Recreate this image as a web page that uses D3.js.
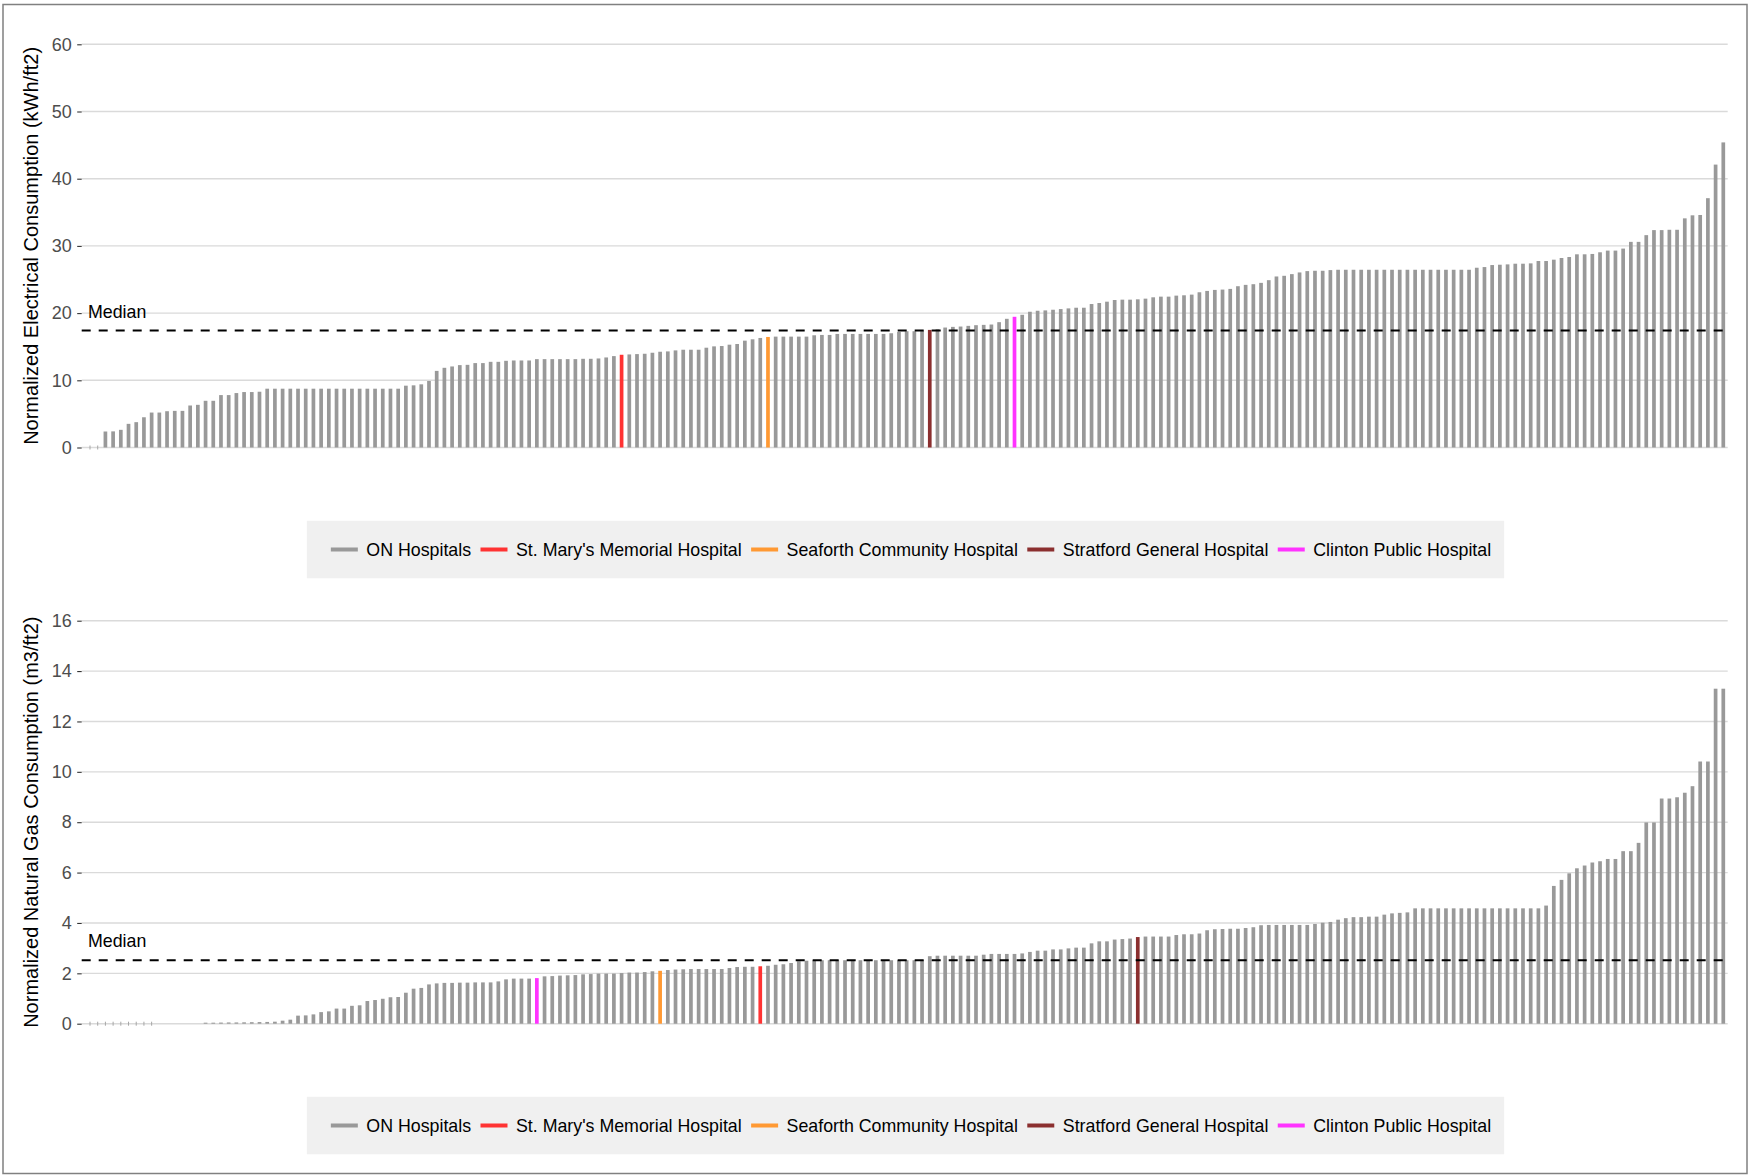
<!DOCTYPE html>
<html>
<head>
<meta charset="utf-8">
<script src="https://cdn.jsdelivr.net/npm/d3@7"></script>
<style>
  body { margin: 0; background: #fff; }
  text { font-family: "Liberation Sans", Arial, sans-serif; }
</style>
</head>
<body>
<div id="chart"></div>
<script>
// normalized electrical consumption, sorted (kWh/ft2)
const elecValues = [
  0, 0, 2.38, 2.4, 2.63, 3.52, 3.77, 4.5, 5.2, 5.2,
  5.4, 5.45, 5.45, 6.25, 6.35, 6.95, 6.95, 7.8, 7.8, 8.1,
  8.25, 8.25, 8.3, 8.75, 8.75, 8.75, 8.75, 8.75, 8.75, 8.75,
  8.75, 8.75, 8.75, 8.75, 8.75, 8.75, 8.75, 8.75, 8.75, 8.75,
  8.75, 9.2, 9.25, 9.4, 9.9, 11.4, 11.86, 12.06, 12.26, 12.3,
  12.56, 12.56, 12.75, 12.75, 12.9, 12.95, 12.95, 12.95, 13.15, 13.15,
  13.15, 13.15, 13.15, 13.15, 13.2, 13.2, 13.25, 13.4, 13.6, 13.8,
  13.85, 13.9, 13.95, 14.1, 14.25, 14.3, 14.45, 14.55, 14.55, 14.55,
  14.85, 15.05, 15.1, 15.3, 15.4, 15.9, 16.1, 16.3, 16.45, 16.5,
  16.5, 16.5, 16.5, 16.5, 16.7, 16.75, 16.75, 16.9, 16.9, 16.9,
  16.9, 16.9, 16.9, 16.9, 17.0, 17.2, 17.3, 17.3, 17.4, 17.5,
  17.6, 17.85, 17.95, 18.0, 18.1, 18.2, 18.25, 18.3, 18.65, 19.15,
  19.45, 19.75, 20.2, 20.35, 20.4, 20.5, 20.6, 20.7, 20.8, 20.8,
  21.35, 21.5, 21.7, 21.95, 22.0, 22.0, 22.05, 22.15, 22.35, 22.45,
  22.45, 22.6, 22.65, 22.75, 23.1, 23.3, 23.45, 23.5, 23.6, 24.0,
  24.2, 24.3, 24.5, 24.9, 25.45, 25.55, 25.8, 26.05, 26.25, 26.3,
  26.3, 26.4, 26.45, 26.45, 26.45, 26.45, 26.45, 26.45, 26.45, 26.45,
  26.45, 26.45, 26.45, 26.45, 26.45, 26.45, 26.45, 26.45, 26.45, 26.45,
  26.75, 26.85, 27.15, 27.2, 27.25, 27.35, 27.35, 27.4, 27.75, 27.75,
  27.95, 28.2, 28.35, 28.75, 28.75, 28.8, 29.05, 29.3, 29.3, 29.6,
  30.6, 30.6, 31.6, 32.35, 32.35, 32.4, 32.4, 34.1, 34.55, 34.6,
  37.1, 42.1, 45.4
];

// normalized natural gas consumption, sorted (m3/ft2); null = no value
const gasValues = [
  0, 0, 0, 0, 0, 0, 0, 0, 0, null,
  null, null, null, null, null, 0.04, 0.04, 0.045, 0.05, 0.05,
  0.055, 0.06, 0.065, 0.07, 0.08, 0.12, 0.16, 0.32, 0.33, 0.37,
  0.46, 0.49, 0.6, 0.6, 0.71, 0.73, 0.9, 0.94, 0.99, 1.05,
  1.06, 1.23, 1.39, 1.42, 1.56, 1.6, 1.62, 1.62, 1.63, 1.63,
  1.64, 1.64, 1.64, 1.68, 1.76, 1.79, 1.79, 1.79, 1.81, 1.88,
  1.89, 1.91, 1.92, 1.93, 1.96, 1.97, 1.99, 1.99, 1.99, 2.01,
  2.03, 2.03, 2.05, 2.08, 2.1, 2.13, 2.15, 2.16, 2.17, 2.17,
  2.17, 2.17, 2.17, 2.21, 2.25, 2.26, 2.26, 2.28, 2.3, 2.34,
  2.36, 2.41, 2.48, 2.5, 2.52, 2.52, 2.52, 2.52, 2.52, 2.52,
  2.52, 2.52, 2.52, 2.52, 2.52, 2.52, 2.52, 2.52, 2.52, 2.68,
  2.7, 2.7, 2.7, 2.7, 2.7, 2.7, 2.74, 2.77, 2.77, 2.77,
  2.77, 2.79, 2.85, 2.9, 2.9, 2.95, 2.95, 2.99, 3.02, 3.02,
  3.19, 3.27, 3.27, 3.34, 3.36, 3.38, 3.44, 3.46, 3.46, 3.46,
  3.46, 3.52, 3.55, 3.55, 3.58, 3.71, 3.75, 3.76, 3.77, 3.77,
  3.8, 3.83, 3.91, 3.92, 3.92, 3.92, 3.92, 3.92, 3.92, 3.96,
  4.01, 4.04, 4.13, 4.19, 4.23, 4.23, 4.25, 4.25, 4.33, 4.38,
  4.4, 4.42, 4.58, 4.58, 4.58, 4.58, 4.58, 4.58, 4.58, 4.58,
  4.58, 4.58, 4.58, 4.58, 4.58, 4.58, 4.58, 4.58, 4.58, 4.69,
  5.47, 5.71, 5.97, 6.17, 6.28, 6.4, 6.45, 6.54, 6.54, 6.85,
  6.85, 7.18, 7.99, 7.99, 8.94, 8.94, 8.99, 9.17, 9.43, 10.41,
  10.41, 13.3, 13.3
];

const elecTicks = [0, 10, 20, 30, 40, 50, 60];
const gasTicks = [0, 2, 4, 6, 8, 10, 12, 14, 16];
const elecMedian = 17.4;
const gasMedian = 2.52;

const hospitalNames = ["ON Hospitals", "St. Mary's Memorial Hospital", "Seaforth Community Hospital",
  "Stratford General Hospital", "Clinton Public Hospital"];
const hospitalColors = ["#999999", "#FF3333", "#FF9933", "#8B2F2F", "#FF33FF"];
// position of each named hospital in the sorted bars
const elecRanks = [null, 69, 88, 109, 120];
const gasRanks = [null, 87, 74, 136, 58];

const W = 1750, H = 1175;
const font = '"Liberation Sans", Arial, sans-serif';

const svg = d3.select("#chart").append("svg")
  .attr("width", W)
  .attr("height", H);

svg.append("rect").attr("width", W).attr("height", H).attr("fill", "#fff");
svg.append("rect")
  .attr("x", 3).attr("y", 4.5)
  .attr("width", 1744).attr("height", 1169)
  .attr("fill", "none")
  .attr("stroke", "#808080")
  .attr("stroke-width", 1.5);

const plotLeft = 81.7, plotRight = 1727.7;
const padL = 8.3, padR = 4.4;

function drawPanel(cfg) {
  const n = cfg.values.length;
  const step = (plotRight - padR - plotLeft - padL) / (n - 1);
  const p = 0.52;
  const x = d3.scaleBand()
    .domain(d3.range(n))
    .range([plotLeft + padL - step / 2, plotRight - padR + step / 2])
    .paddingInner(p)
    .paddingOuter(p / 2);
  const y = d3.scaleLinear().domain(cfg.domain).range([cfg.bottom, cfg.top]);

  const g = svg.append("g");

  g.selectAll("line.grid")
    .data(cfg.ticks)
    .join("line")
    .attr("class", "grid")
    .attr("x1", plotLeft).attr("x2", plotRight)
    .attr("y1", d => y(d)).attr("y2", d => y(d))
    .attr("stroke", "#dadada")
    .attr("stroke-width", 1.4);

  const axis = g.append("g")
    .attr("transform", `translate(${plotLeft},0)`)
    .call(d3.axisLeft(y).tickValues(cfg.ticks).tickSize(4.5).tickPadding(5.5));
  axis.select(".domain").remove();
  axis.selectAll(".tick line").attr("stroke", "#333").attr("stroke-width", 1.1);
  axis.selectAll(".tick text")
    .attr("fill", "#4d4d4d")
    .style("font-size", "18px")
    .style("font-family", font);

  const rows = cfg.values.map((v, i) => ({ v, i }));
  const colorOf = i => {
    const k = cfg.ranks.indexOf(i);
    return k > 0 ? hospitalColors[k] : hospitalColors[0];
  };

  g.selectAll("rect.bar")
    .data(rows.filter(d => d.v > 0))
    .join("rect")
    .attr("class", "bar")
    .attr("x", d => x(d.i))
    .attr("width", x.bandwidth())
    .attr("y", d => y(d.v))
    .attr("height", d => y(0) - y(d.v))
    .attr("fill", d => colorOf(d.i));

  // zero values show as a thin tick on the baseline
  g.selectAll("line.zero")
    .data(rows.filter(d => d.v === 0))
    .join("line")
    .attr("class", "zero")
    .attr("x1", d => x(d.i) + x.bandwidth() / 2)
    .attr("x2", d => x(d.i) + x.bandwidth() / 2)
    .attr("y1", y(0) - 2).attr("y2", y(0) + 2)
    .attr("stroke", "#a6a6a6")
    .attr("stroke-width", 1);

  g.append("line")
    .attr("x1", plotLeft).attr("x2", plotRight)
    .attr("y1", y(cfg.median)).attr("y2", y(cfg.median))
    .attr("stroke", "#000")
    .attr("stroke-width", 2)
    .attr("stroke-dasharray", "9,8");

  g.append("text")
    .attr("x", x(0) + x.bandwidth() / 2 - 2)
    .attr("y", y(cfg.median) - 13)
    .style("font-size", "17.8px")
    .attr("fill", "#000")
    .text("Median");

  g.append("text")
    .attr("transform", `translate(30.5,${(cfg.top + cfg.bottom) / 2}) rotate(-90)`)
    .attr("text-anchor", "middle")
    .attr("dy", "0.35em")
    .style("font-size", "20px")
    .attr("fill", "#000")
    .text(cfg.title);

  drawLegend(cfg.legendY);
}

function drawLegend(cy) {
  const keyW = 27, keyGap = 8.5, itemGap = 9.4, padLeft = 24, padRight = 13;
  const lg = svg.append("g");
  const box = lg.append("rect").attr("fill", "#f0f0f0");
  const items = lg.selectAll("g.item")
    .data(hospitalNames)
    .join("g")
    .attr("class", "item");
  items.append("line")
    .attr("x1", 0).attr("x2", keyW)
    .attr("y1", cy).attr("y2", cy)
    .attr("stroke", (d, i) => hospitalColors[i])
    .attr("stroke-width", 4);
  items.append("text")
    .attr("x", keyW + keyGap)
    .attr("y", cy)
    .attr("dy", "0.35em")
    .style("font-size", "17.8px")
    .attr("fill", "#000")
    .text(d => d);

  const widths = [];
  items.select("text").each(function () { widths.push(this.getComputedTextLength()); });
  const content = d3.sum(widths) + widths.length * (keyW + keyGap) + (widths.length - 1) * itemGap;
  const boxW = content + padLeft + padRight;
  const boxX = (plotLeft + plotRight) / 2 + 0.8 - boxW / 2;
  box.attr("x", boxX).attr("y", cy - 28.7).attr("width", boxW).attr("height", 57.5);

  let cursor = boxX + padLeft;
  items.attr("transform", (d, i) => {
    const t = `translate(${cursor},0)`;
    cursor += keyW + keyGap + widths[i] + itemGap;
    return t;
  });
}

drawPanel({
  values: elecValues,
  domain: [0, 60],
  top: 44.3,
  bottom: 447.5,
  ticks: elecTicks,
  median: elecMedian,
  ranks: elecRanks,
  title: "Normalized Electrical Consumption (kWh/ft2)",
  legendY: 549.5
});

drawPanel({
  values: gasValues,
  domain: [0, 16],
  top: 620.7,
  bottom: 1023.7,
  ticks: gasTicks,
  median: gasMedian,
  ranks: gasRanks,
  title: "Normalized Natural Gas Consumption (m3/ft2)",
  legendY: 1125.5
});
</script>
</body>
</html>
